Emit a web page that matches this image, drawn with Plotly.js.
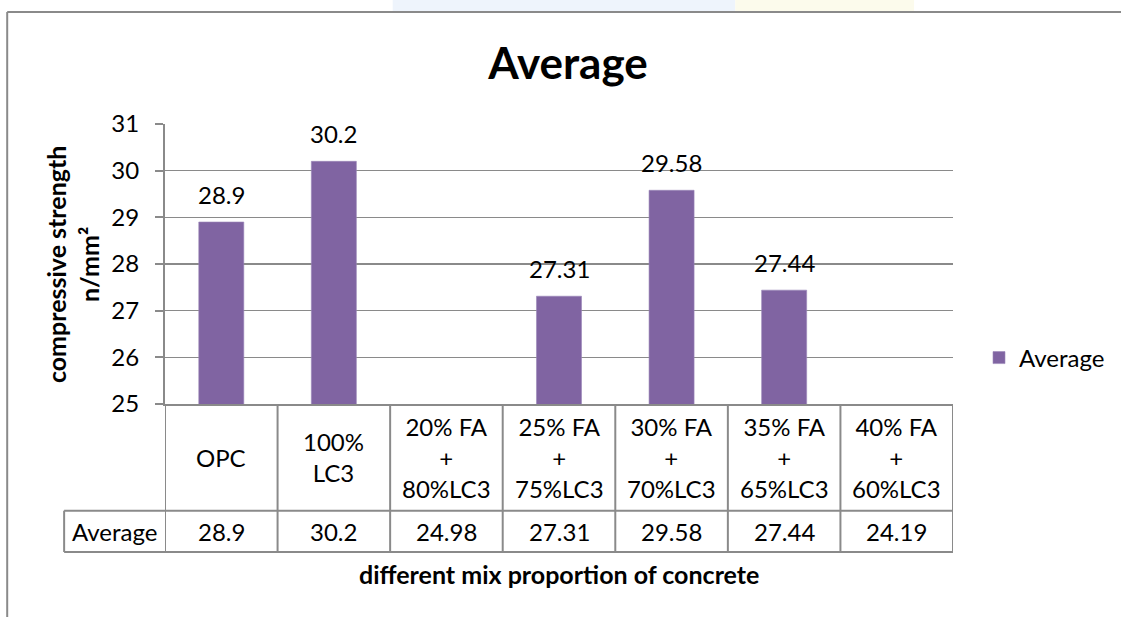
<!DOCTYPE html>
<html>
<head>
<meta charset="utf-8">
<script src="https://cdn.plot.ly/plotly-3.0.1.min.js"></script>
<style>
  html, body { margin: 0; padding: 0; background: #ffffff; }
  #chart { width: 1121px; height: 617px; }
</style>
</head>
<body>
<div id="chart"></div>
<script>
// ---- data ----
const categories = ["OPC", "100% LC3", "20% FA + 80%LC3", "25% FA + 75%LC3", "30% FA + 70%LC3", "35% FA + 65%LC3", "40% FA + 60%LC3"];
const categoryLabels = ["OPC", "100%<br>LC3", "20% FA<br>+<br>80%LC3", "25% FA<br>+<br>75%LC3", "30% FA<br>+<br>70%LC3", "35% FA<br>+<br>65%LC3", "40% FA<br>+<br>60%LC3"];
const averageValues = [28.9, 30.2, 24.98, 27.31, 29.58, 27.44, 24.19];
const seriesName = "Average";
const yTicks = [25, 26, 27, 28, 29, 30, 31];
const chartTitle = "Average";
const xTitle = "different mix proportion of concrete";
const yTitle = "compressive strength<br>n/mm²";

// ---- layout helpers ----
const W = 1121, H = 617;
const M = { l: 165, r: 167, t: 124, b: 213 };
const PW = W - M.l - M.r, PH = H - M.t - M.b;
const px = X => (X - M.l) / PW;            // page px -> paper x
const py = Y => (H - M.b - Y) / PH;        // page px -> paper y

const FONT = "Lato, 'Open Sans', sans-serif";
const LINE = "#8a8a8a";
const PURPLE = "#8064A2";
const FS = 24;      // regular text size
const FSB = 25;     // bold axis title size
const yMin = yTicks[0], yMax = yTicks[yTicks.length - 1];

const rowMid = py(510.7);     // bottom of category row
const rowBot = py(552);       // bottom of value row
const headLeft = px(64);

const shapes = [];
const annotations = [];

// faint background watermark above the chart frame
shapes.push({ type: "rect", xref: "paper", yref: "paper", x0: px(393), x1: px(736), y0: py(12), y1: py(0),
  fillcolor: "#eef4fc", line: { width: 0 }, layer: "below" });
shapes.push({ type: "rect", xref: "paper", yref: "paper", x0: px(736), x1: px(915), y0: py(12), y1: py(0),
  fillcolor: "#fcfbec", line: { width: 0 }, layer: "below" });

// chart frame (top and left edges)
shapes.push({ type: "line", xref: "paper", yref: "paper", x0: px(7), x1: px(1125), y0: py(12), y1: py(12),
  line: { color: LINE, width: 2 } });
shapes.push({ type: "line", xref: "paper", yref: "paper", x0: px(7), x1: px(7), y0: py(12), y1: py(620),
  line: { color: LINE, width: 2 } });

// data table grid
for (let k = 0; k <= categories.length; k++) {
  shapes.push({ type: "line", xref: "x", yref: "paper", x0: k - 0.5, x1: k - 0.5, y0: 0, y1: rowBot,
    line: { color: LINE, width: 2 } });
}
shapes.push({ type: "line", xref: "paper", yref: "paper", x0: headLeft, x1: 1, y0: rowMid, y1: rowMid,
  line: { color: LINE, width: 2 } });
shapes.push({ type: "line", xref: "paper", yref: "paper", x0: headLeft, x1: 1, y0: rowBot, y1: rowBot,
  line: { color: LINE, width: 2 } });
shapes.push({ type: "line", xref: "paper", yref: "paper", x0: headLeft, x1: headLeft, y0: rowMid, y1: rowBot,
  line: { color: LINE, width: 2 } });

const txt = (size, bold) => ({ family: FONT, size: size, color: "#000000", weight: bold ? "bold" : "normal" });

// category labels and table values
categories.forEach((c, i) => {
  annotations.push({ xref: "x", yref: "paper", x: i, y: (0 + rowMid) / 2, text: categoryLabels[i],
    showarrow: false, xanchor: "center", yanchor: "middle", align: "center", font: txt(FS) });
  annotations.push({ xref: "x", yref: "paper", x: i, y: (rowMid + rowBot) / 2, text: String(averageValues[i]),
    showarrow: false, xanchor: "center", yanchor: "middle", font: txt(FS) });
  if (averageValues[i] >= yMin) {
    annotations.push({ xref: "x", yref: "y", x: i, y: averageValues[i], text: String(averageValues[i]),
      showarrow: false, xanchor: "center", yanchor: "bottom", yshift: 11, font: txt(FS) });
  }
});
annotations.push({ xref: "paper", yref: "paper", x: (headLeft + 0) / 2, y: (rowMid + rowBot) / 2, text: seriesName,
  showarrow: false, xanchor: "center", yanchor: "middle", font: txt(FS) });

// axis titles
annotations.push({ xref: "paper", yref: "paper", x: 0.5, y: py(574), text: xTitle,
  showarrow: false, xanchor: "center", yanchor: "middle", font: txt(FSB, true) });
annotations.push({ xref: "paper", yref: "paper", x: px(72), y: 0.5, text: yTitle, textangle: -90,
  showarrow: false, xanchor: "center", yanchor: "middle", font: txt(FSB, true) });

const trace = {
  type: "bar",
  name: seriesName,
  x: categories,
  y: averageValues,
  marker: { color: PURPLE, line: { color: "#9a86b8", width: 0.6 } },
  hoverinfo: "x+y",
  cliponaxis: true
};

const layout = {
  width: W, height: H,
  margin: M,
  paper_bgcolor: "#ffffff",
  plot_bgcolor: "#ffffff",
  font: { family: FONT, size: FS, color: "#000000" },
  title: { text: chartTitle, font: { family: FONT, size: 44, weight: "bold", color: "#000000" },
    xref: "container", yref: "container", x: 568 / W, xanchor: "center", y: 1 - 63.6 / H, yanchor: "middle" },
  bargap: 0.6,
  showlegend: true,
  legend: { x: px(979), xanchor: "left", y: py(358), yanchor: "middle", font: txt(FS),
    bgcolor: "rgba(0,0,0,0)", itemwidth: 30 },
  xaxis: { type: "category", range: [-0.5, categories.length - 0.5], showticklabels: false,
    showline: true, linecolor: LINE, linewidth: 2, showgrid: false, ticks: "", zeroline: false, fixedrange: true },
  yaxis: { range: [yMin, yMax], tickvals: yTicks, ticktext: yTicks.map(String), showline: true, linecolor: LINE, linewidth: 2,
    ticks: "outside", ticklen: 8, tickwidth: 2, tickcolor: LINE, showgrid: true, gridcolor: LINE, gridwidth: 1.6,
    zeroline: false, tickfont: txt(FS), ticklabelstandoff: 11, fixedrange: true },
  shapes: shapes,
  annotations: annotations
};

Plotly.newPlot("chart", [trace], layout, { displayModeBar: false, staticPlot: true });
</script>
</body>
</html>
